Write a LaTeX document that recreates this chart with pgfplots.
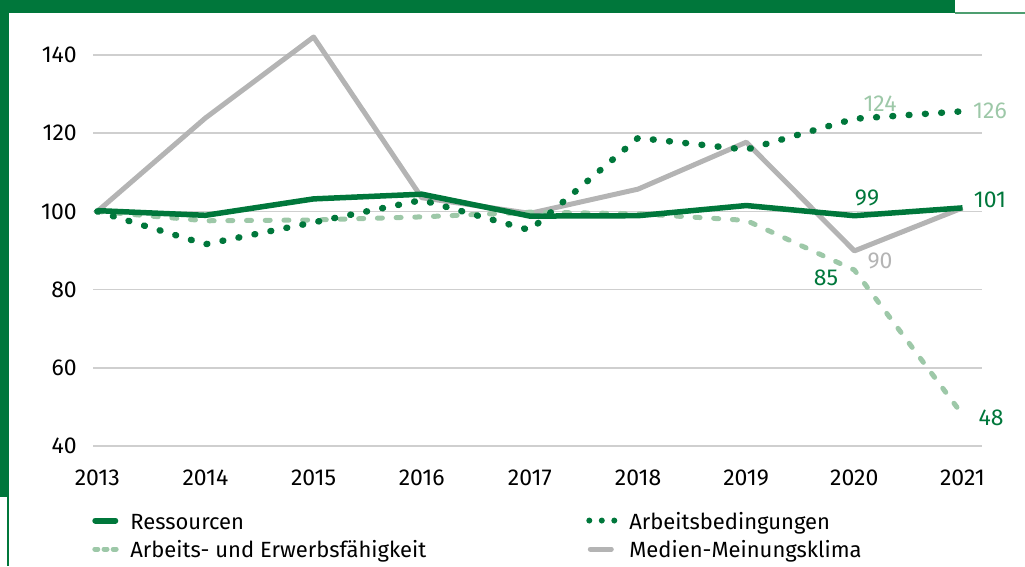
\documentclass[border=0pt]{standalone}
\usepackage{fontspec}
\setmainfont{Fira Sans}
\usepackage{pgfplots}
\pgfplotsset{compat=1.18}
\definecolor{dkgreen}{HTML}{00773B}
\definecolor{ltgreen}{HTML}{9DC8A8}
\definecolor{midgreen}{HTML}{4E9E70}
\definecolor{mgray}{HTML}{B4B4B4}
\definecolor{gridgray}{HTML}{CFCFCF}
\newcommand{\lblfont}{\fontsize{23}{27}\selectfont}
\newcommand{\legfont}{\fontsize{22}{26}\selectfont}
\begin{document}
\begin{tikzpicture}
  \path[use as bounding box] (0,0) rectangle (1025pt,566pt);
  % frame decoration
  \fill[dkgreen] (0,553.3pt) rectangle (955pt,566pt);
  \fill[midgreen] (955pt,552pt) rectangle (1025pt,554pt);
  \fill[dkgreen] (0,69pt) rectangle (8.5pt,566pt);
  \fill[dkgreen] (7.2pt,0) rectangle (8.7pt,69pt);
  \begin{axis}[
    at={(93pt,120pt)}, anchor=south west,
    scale only axis, width=889pt, height=391pt,
    xmin=2012.96, xmax=2021.18, ymin=40, ymax=140,
    axis line style={draw=none},
    major tick style={draw=none},
    xtick={2013,...,2021}, ytick={40,60,...,140},
    ymajorgrids, grid style={color=gridgray, line width=1.5pt},
    /pgf/number format/assume math mode=true,
    tick label style={font=\lblfont, inner sep=0pt},
    x tick label style={/pgf/number format/1000 sep={}, anchor=north, yshift=-24pt},
    y tick label style={anchor=east, xshift=-16pt},
    clip=false,
    legend columns=2,
    legend style={at={(axis description cs:-0.001,-0.162)}, anchor=north west,
      draw=none, fill=none, inner sep=0pt, row sep=4pt, column sep=0pt,
      font=\legfont, nodes={inner sep=0pt, text height=16pt, text depth=5pt}},
  ]
    % Medien-Meinungsklima
    \addplot[mgray, line width=5pt, line join=round, forget plot] coordinates {
      (2013,100) (2014,123.9) (2015,144.6) (2016,103.5) (2017,99.5)
      (2018,105.7) (2019,117.7) (2020,89.9) (2021,100.9)
    };
    % Arbeits- und Erwerbsfaehigkeit
    \addplot[ltgreen, line width=5pt, line cap=round, dash pattern=on 5pt off 13.7pt, forget plot] coordinates {
      (2013,100) (2014,97.6) (2015,97.8) (2016,98.6) (2017,99.8)
      (2018,99.4) (2019,97.7) (2020,85) (2021,48)
    };
    % Arbeitsbedingungen
    \addplot[dkgreen, line width=6.5pt, line cap=round, dash pattern=on 0.8pt off 15.5pt, forget plot] coordinates {
      (2013,100) (2014,91.6) (2015,97.2) (2016,102.9) (2017,95.2)
      (2018,118.8) (2019,115.8) (2020,123.7) (2021,125.6)
    };
    % Ressourcen
    \addplot[dkgreen, line width=5.5pt, line join=round, forget plot] coordinates {
      (2013,100.2) (2014,99) (2015,103.2) (2016,104.4) (2017,98.8)
      (2018,98.9) (2019,101.5) (2020,98.9) (2021,100.9)
    };
    \addlegendimage{legend image code/.code={
        \path[draw=none, fill=none] (0pt,0pt) rectangle (38pt,14pt);
        \draw[dkgreen, line width=6pt, line cap=round] (3pt,3pt) -- (23pt,3pt);}}
    \addlegendentry{\makebox[456pt][l]{Ressourcen}}
    \addlegendimage{legend image code/.code={
        \path[draw=none, fill=none] (0pt,0pt) rectangle (42pt,14pt);
        \draw[dkgreen, line width=6pt, line cap=round, dash pattern=on 0pt off 12.5pt] (2pt,3pt) -- (27.5pt,3pt);}}
    \addlegendentry{\makebox[300pt][l]{Arbeitsbedingungen}}
    \addlegendimage{legend image code/.code={
        \path[draw=none, fill=none] (0pt,0pt) rectangle (38pt,14pt);
        \draw[ltgreen, line width=5pt, line cap=round, dash pattern=on 3pt off 6.2pt] (2.5pt,3pt) -- (24pt,3pt);}}
    \addlegendentry{\makebox[456pt][l]{Arbeits- und Erwerbsfähigkeit}}
    \addlegendimage{legend image code/.code={
        \path[draw=none, fill=none] (0pt,0pt) rectangle (42pt,14pt);
        \draw[mgray, line width=5pt, line cap=round] (3pt,3pt) -- (24pt,3pt);}}
    \addlegendentry{\makebox[300pt][l]{Medien-Meinungsklima}}
  \end{axis}
  % value labels
  \begin{scope}[every node/.style={font=\lblfont, inner sep=0pt}]
    \node[text=dkgreen] at (867pt,368pt) {99};
    \node[text=dkgreen] at (990pt,366pt) {101};
    \node[text=ltgreen] at (880pt,462pt) {124};
    \node[text=ltgreen] at (990pt,455pt) {126};
    \node[text=mgray] at (880pt,305pt) {90};
    \node[text=dkgreen] at (826pt,288pt) {85};
    \node[text=dkgreen] at (991pt,148pt) {48};
  \end{scope}
\end{tikzpicture}
\end{document}
